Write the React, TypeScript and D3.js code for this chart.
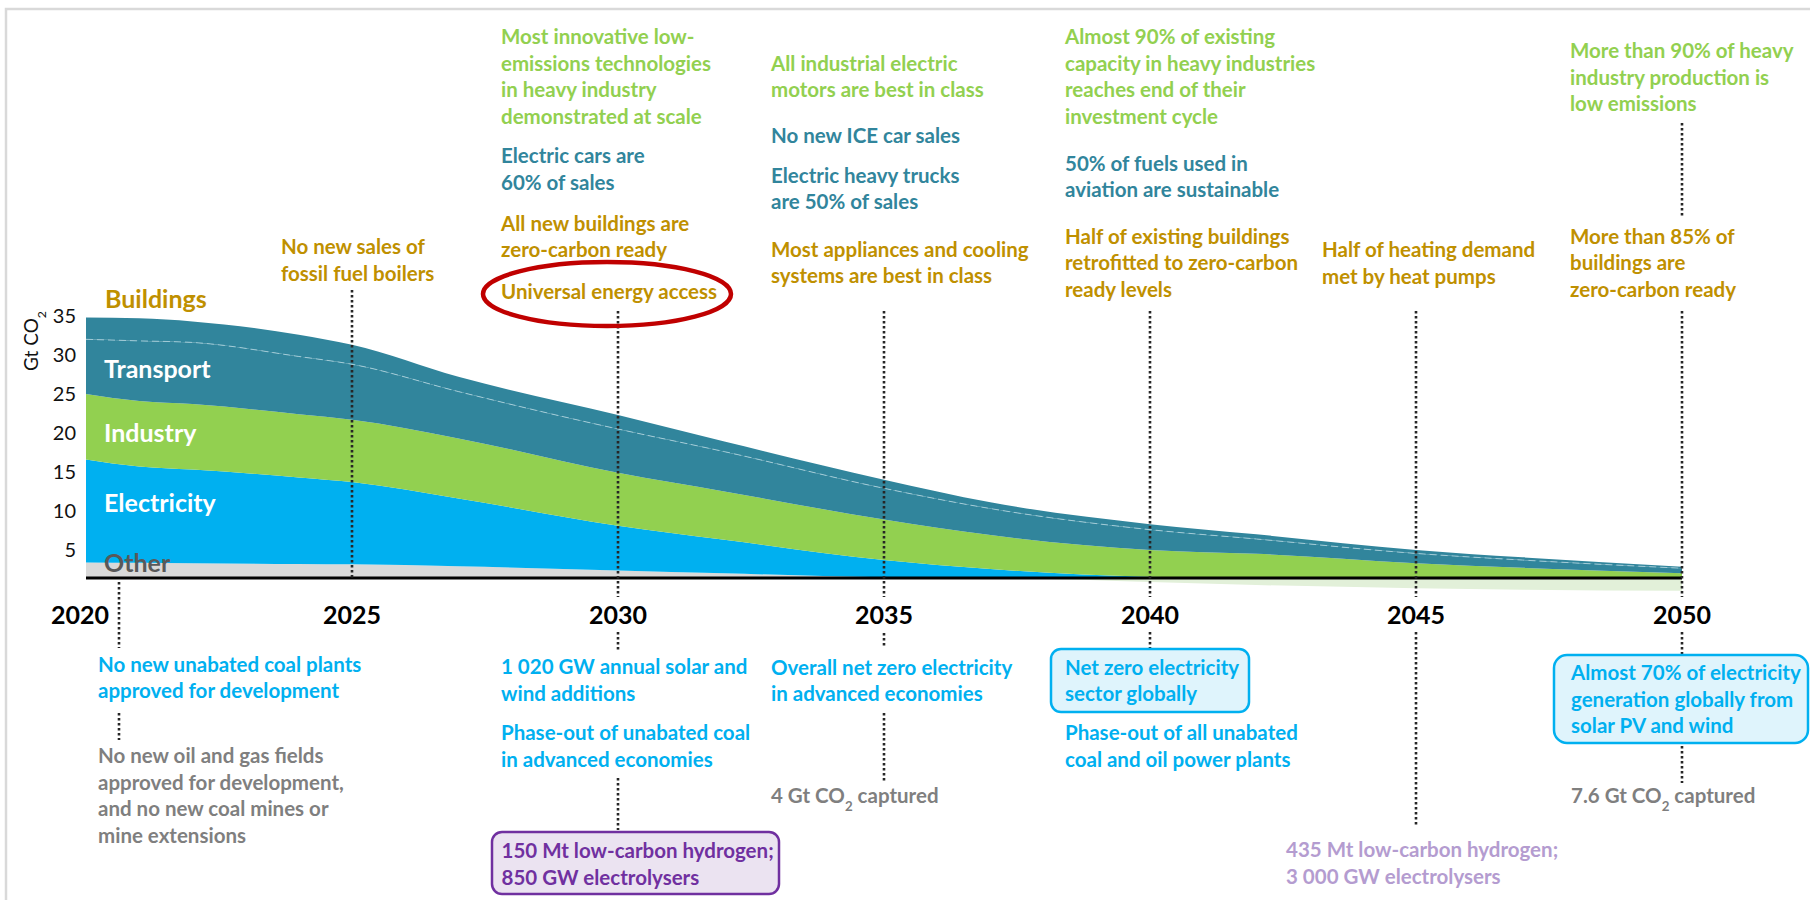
import React from 'react';
import * as d3 from 'd3';

// ---------- data (Gt CO2, by sector, stacked) ----------
const years = [2020, 2021, 2022, 2024, 2025, 2027, 2030, 2032, 2035, 2037, 2040, 2042, 2045, 2047, 2050];
const other = [2.0, 1.95, 1.9, 1.8, 1.75, 1.5, 0.95, 0.6, 0.1, 0, 0, 0, 0, 0, 0];
const electricity = [13.2, 12.35, 12.0, 11.1, 10.55, 8.7, 5.75, 4.3, 2.2, 1.15, 0.15, 0, 0, 0, 0];
const industry = [8.4, 8.4, 8.4, 8.1, 8.0, 7.7, 6.8, 6.2, 5.2, 4.35, 3.45, 3.1, 1.9, 1.3, 0.6];
const transport = [7.0, 7.7, 7.9, 7.4, 7.1, 6.0, 5.6, 5.1, 4.0, 3.4, 2.6, 1.9, 1.25, 1.0, 0.65];
const buildings = [2.8, 2.9, 2.7, 2.8, 2.5, 1.9, 1.8, 1.3, 1.1, 0.8, 0.7, 0.6, 0.45, 0.35, 0.2];
const removals = [0, 0, 0, 0, 0, 0, 0, 0, 0, 0, -0.5, -0.9, -1.3, -1.5, -1.65];

const sectorKeys = ['other', 'electricity', 'industry', 'transport', 'buildings'];
const yTicks = [5, 10, 15, 20, 25, 30, 35];
const yearTicks = [2020, 2025, 2030, 2035, 2040, 2045, 2050];

// ---------- milestone texts ----------
const txt2025Top = ['No new sales of', 'fossil fuel boilers'];
const txt2030Ind = ['Most innovative low-', 'emissions technologies', 'in heavy industry', 'demonstrated at scale'];
const txt2030Tra = ['Electric cars are', '60% of sales'];
const txt2030Bld = ['All new buildings are', 'zero-carbon ready'];
const txt2030Acc = ['Universal energy access'];
const txt2035Ind = ['All industrial electric', 'motors are best in class'];
const txt2035Tra1 = ['No new ICE car sales'];
const txt2035Tra2 = ['Electric heavy trucks', 'are 50% of sales'];
const txt2035Bld = ['Most appliances and cooling', 'systems are best in class'];
const txt2040Ind = ['Almost 90% of existing', 'capacity in heavy industries', 'reaches end of their', 'investment cycle'];
const txt2040Tra = ['50% of fuels used in', 'aviation are sustainable'];
const txt2040Bld = ['Half of existing buildings', 'retrofitted to zero-carbon', 'ready levels'];
const txt2045Bld = ['Half of heating demand', 'met by heat pumps'];
const txt2050Ind = ['More than 90% of heavy', 'industry production is', 'low emissions'];
const txt2050Bld = ['More than 85% of', 'buildings are', 'zero-carbon ready'];

const txt2020Ele = ['No new unabated coal plants', 'approved for development'];
const txt2020Oth = ['No new oil and gas fields', 'approved for development,', 'and no new coal mines or', 'mine extensions'];
const txt2030Ele1 = ['1 020 GW annual solar and', 'wind additions'];
const txt2030Ele2 = ['Phase-out of unabated coal', 'in advanced economies'];
const txt2030H2 = ['150 Mt low-carbon hydrogen;', '850 GW electrolysers'];
const txt2035Ele = ['Overall net zero electricity', 'in advanced economies'];
const txt2035Ccs = ['4 Gt CO2 captured'];
const txt2040Ele1 = ['Net zero electricity', 'sector globally'];
const txt2040Ele2 = ['Phase-out of all unabated', 'coal and oil power plants'];
const txt2045H2 = ['435 Mt low-carbon hydrogen;', '3 000 GW electrolysers'];
const txt2050Ele = ['Almost 70% of electricity', 'generation globally from', 'solar PV and wind'];
const txt2050Ccs = ['7.6 Gt CO2 captured'];

// ---------- style ----------
const FONT = "Lato, 'Open Sans', sans-serif";
const GREEN = '#92D050';
const TEAL = '#31859C';
const GOLD = '#BF9000';
const BLUE = '#00B0F0';
const GRAY = '#7F7F7F';
const PURPLE = '#7030A0';
const LPURPLE = '#B49CD0';
const COLORS: Record<string, string> = {
  other: '#D9D9D9',
  electricity: '#00B0F0',
  industry: '#92D050',
  transport: '#31859C',
  buildings: '#31859C',
};
const LH = 26.7;
const FS = 20.5;

function withSub(line: string) {
  if (!line.includes('CO2')) return line;
  const [a, b] = line.split('CO2');
  return (
    <>
      {a}CO<tspan baselineShift="sub" fontSize="65%">2</tspan>{b}
    </>
  );
}

function Lines(props: { x: number; y: number; lines: string[]; color: string; size?: number; weight?: number }) {
  const { x, y, lines, color, size = FS, weight = 700 } = props;
  return (
    <text fill={color} fontSize={size} fontWeight={weight} fontFamily={FONT}>
      {lines.map((ln, i) => (
        <tspan key={i} x={x} y={y + i * LH}>
          {withSub(ln)}
        </tspan>
      ))}
    </text>
  );
}

export default function App() {
  const X0 = 86, X1 = 1682, Y0 = 578, PX = 7.8;
  const x = d3.scaleLinear().domain([2020, 2050]).range([X0, X1]);
  const y = d3.scaleLinear().domain([0, 35]).range([Y0, Y0 - 35 * PX]);

  const rows = years.map((yr, i) => ({
    year: yr,
    other: other[i],
    electricity: electricity[i],
    industry: industry[i],
    transport: transport[i],
    buildings: buildings[i],
    removals: removals[i],
  }));
  const series = d3.stack<any>().keys(sectorKeys)(rows);
  const area = d3
    .area<any>()
    .x((d) => x(d.data.year))
    .y0((d) => y(d[0]))
    .y1((d) => y(d[1]))
    .curve(d3.curveMonotoneX);
  const negArea = d3
    .area<any>()
    .x((d) => x(d.year))
    .y0(() => y(0))
    .y1((d) => y(d.removals))
    .curve(d3.curveMonotoneX);
  const transportTop = series.find((s) => s.key === 'transport')!;
  const sepLine = d3
    .line<any>()
    .x((d) => x(d.data.year))
    .y((d) => y(d[1]))
    .curve(d3.curveMonotoneX);

  const dot = { stroke: '#262626', strokeWidth: 2.6, strokeDasharray: '2.6 2.4' };
  const vline = (xx: number, y1: number, y2: number, k: string) => (
    <line key={k} x1={xx} x2={xx} y1={y1} y2={y2} {...dot} />
  );

  const x2020c = x(2020) + 33; // connector column under 2020

  return (
    <svg width={1810} height={900} style={{ position: 'absolute', left: 0, top: 0, background: '#fff' }}>
      {/* frame */}
      <rect x={6} y={9} width={1900} height={1000} fill="none" stroke="#D9D9D9" strokeWidth={2.5} />

      {/* negative emissions */}
      <path d={negArea(rows) || ''} fill="#E2F0D9" />
      {/* stacked areas */}
      {series.map((s) => (
        <path key={s.key} d={area(s as any) || ''} fill={COLORS[s.key]} />
      ))}
      <path
        d={sepLine(transportTop as any) || ''}
        fill="none"
        stroke="#A8CFDA"
        strokeWidth={1}
        strokeDasharray="7 4"
        opacity={0.9}
      />
      {/* baseline */}
      <line x1={X0} x2={X1} y1={Y0} y2={Y0} stroke="#000" strokeWidth={3} />

      {/* y axis */}
      {yTicks.map((t) => (
        <text key={t} x={76} y={y(t) + 10} textAnchor="end" dominantBaseline="central" fontSize={20} fontFamily={FONT} fill="#111">
          {t}
        </text>
      ))}
      <text transform="translate(38,341) rotate(-90)" textAnchor="middle" fontSize={19} fontFamily={FONT} fill="#111">
        Gt CO<tspan baselineShift="sub" fontSize="65%">2</tspan>
      </text>

      {/* area labels */}
      <text x={105} y={308} fill={GOLD} fontSize={25} fontWeight={700} fontFamily={FONT}>Buildings</text>
      <text x={104} y={378} fill="#fff" fontSize={25} fontWeight={700} fontFamily={FONT}>Transport</text>
      <text x={104} y={442} fill="#fff" fontSize={25} fontWeight={700} fontFamily={FONT}>Industry</text>
      <text x={104} y={512} fill="#fff" fontSize={25} fontWeight={700} fontFamily={FONT}>Electricity</text>
      <text x={104} y={572} fill="#595959" fontSize={25} fontWeight={700} fontFamily={FONT}>Other</text>

      {/* year labels */}
      {yearTicks.map((t, i) => (
        <text key={t} x={x(t) - (i === 0 ? 6 : 0)} y={624} textAnchor="middle" fontSize={25} fontWeight={700} fontFamily={FONT} fill="#000">
          {t}
        </text>
      ))}

      {/* vertical dotted connectors (above axis) */}
      {vline(x(2025), 290, 578, 'a25')}
      {[2030, 2035, 2040, 2045, 2050].map((t) => vline(x(t), 311, 597, 'a' + t))}
      {vline(x(2050), 123, 218, 'a50b')}
      {/* below axis */}
      {vline(x2020c, 582, 648, 'b20a')}
      {vline(x2020c, 713, 740, 'b20b')}
      {vline(x(2030), 632, 650, 'b30a')}
      {vline(x(2030), 778, 830, 'b30b')}
      {vline(x(2035), 633, 648, 'b35a')}
      {vline(x(2035), 713, 782, 'b35b')}
      {vline(x(2040), 632, 648, 'b40a')}
      {vline(x(2045), 632, 825, 'b45a')}
      {vline(x(2050), 632, 655, 'b50a')}
      {vline(x(2050), 746, 783, 'b50b')}

      {/* top annotations */}
      <Lines x={281} y={254} lines={txt2025Top} color={GOLD} />
      <Lines x={501} y={44} lines={txt2030Ind} color={GREEN} />
      <Lines x={501} y={163} lines={txt2030Tra} color={TEAL} />
      <Lines x={501} y={230.5} lines={txt2030Bld} color={GOLD} />
      <Lines x={501} y={298.5} lines={txt2030Acc} color={GOLD} />
      <ellipse cx={607} cy={294} rx={124} ry={32} fill="none" stroke="#C00000" strokeWidth={4.5} />
      <Lines x={771} y={70.5} lines={txt2035Ind} color={GREEN} />
      <Lines x={771} y={142.5} lines={txt2035Tra1} color={TEAL} />
      <Lines x={771} y={182.5} lines={txt2035Tra2} color={TEAL} />
      <Lines x={771} y={256.5} lines={txt2035Bld} color={GOLD} />
      <Lines x={1065} y={44} lines={txt2040Ind} color={GREEN} />
      <Lines x={1065} y={170.5} lines={txt2040Tra} color={TEAL} />
      <Lines x={1065} y={243.5} lines={txt2040Bld} color={GOLD} />
      <Lines x={1322} y={257} lines={txt2045Bld} color={GOLD} />
      <Lines x={1570} y={58} lines={txt2050Ind} color={GREEN} />
      <Lines x={1570} y={243.5} lines={txt2050Bld} color={GOLD} />

      {/* boxes */}
      <rect x={492} y={832} width={287} height={62} rx={10} fill="#EBE3F1" stroke={PURPLE} strokeWidth={2.5} />
      <rect x={1051} y={649} width={198} height={63} rx={10} fill="#DFF4FC" stroke={BLUE} strokeWidth={2.5} />
      <rect x={1554} y={655} width={254} height={88} rx={13} fill="#DFF4FC" stroke={BLUE} strokeWidth={2.5} />

      {/* bottom annotations */}
      <Lines x={98} y={671.5} lines={txt2020Ele} color={BLUE} />
      <Lines x={98} y={763} lines={txt2020Oth} color={GRAY} />
      <Lines x={501} y={674} lines={txt2030Ele1} color={BLUE} />
      <Lines x={501} y={740} lines={txt2030Ele2} color={BLUE} />
      <Lines x={501.5} y={858} lines={txt2030H2} color={PURPLE} />
      <Lines x={771} y={674.5} lines={txt2035Ele} color={BLUE} />
      <Lines x={771} y={803} lines={txt2035Ccs} color={GRAY} />
      <Lines x={1065} y={674.5} lines={txt2040Ele1} color={BLUE} />
      <Lines x={1065} y={740} lines={txt2040Ele2} color={BLUE} />
      <Lines x={1286} y={857} lines={txt2045H2} color={LPURPLE} />
      <Lines x={1571} y={680} lines={txt2050Ele} color={BLUE} />
      <Lines x={1571} y={803} lines={txt2050Ccs} color={GRAY} />
    </svg>
  );
}
